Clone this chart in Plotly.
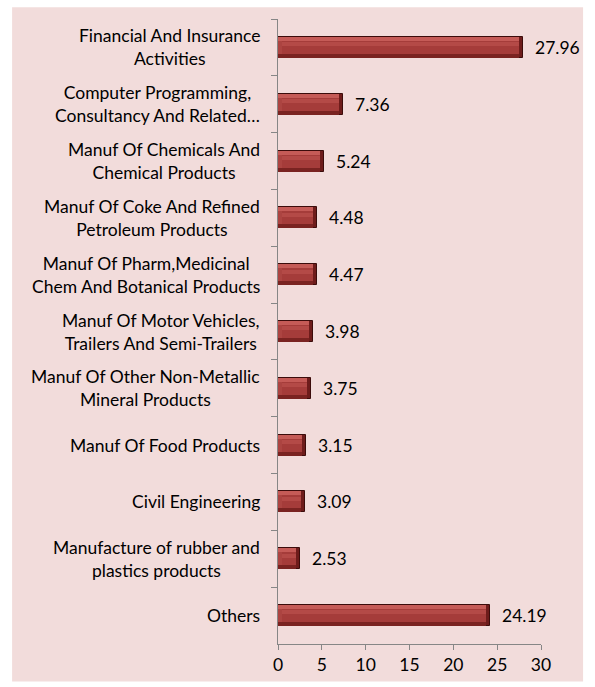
import plotly.graph_objects as go

# sectors, top to bottom
categories = [
    "Financial And Insurance<br>Activities",
    "Computer Programming,<br>Consultancy And Related…",
    "Manuf Of Chemicals And<br>Chemical Products",
    "Manuf Of Coke And Refined<br>Petroleum Products",
    "Manuf Of Pharm,Medicinal<br>Chem And Botanical Products",
    "Manuf Of Motor Vehicles,<br>Trailers And Semi-Trailers",
    "Manuf Of Other Non-Metallic<br>Mineral Products",
    "Manuf Of Food Products",
    "Civil Engineering",
    "Manufacture of rubber and<br>plastics products",
    "Others",
]
values = [27.96, 7.36, 5.24, 4.48, 4.47, 3.98, 3.75, 3.15, 3.09, 2.53, 24.19]
xticks = [0, 5, 10, 15, 20, 25, 30]

FONT = "Lato"
FSIZE = 17.5
inset = 0.45  # bevel depth in axis units

fig = go.Figure()

def bevel_part(x, base, width, offset, color, line=None):
    fig.add_trace(go.Bar(
        x=x, base=base, y=categories, orientation="h", width=width, offset=offset,
        marker=dict(color=color, line=line or dict(width=0)),
        hoverinfo="skip", showlegend=False,
    ))

n = len(values)
# whole bar: dark right end + outline
bevel_part(values, [0] * n, 0.37, -0.185, "#6E1C1B", dict(color="#3C0C0B", width=1))
# left end, a bit lighter
bevel_part([v - inset for v in values], [0] * n, 0.37, -0.185, "#AC4441")
# top bevel
bevel_part([v - inset for v in values], [0] * n, 0.07, -0.185, "#C55B57")
# bottom bevel
bevel_part([v - inset for v in values], [0] * n, 0.07, 0.115, "#7A2321")
# flat face
bevel_part([v - 2 * inset for v in values], [inset] * n, 0.23, -0.115, "#A53C3A")
# soft sheen on the face
bevel_part([v - 2 * inset for v in values], [inset] * n, 0.07, -0.09, "#B44A47")

# category labels, centred lines like the original
for c in categories:
    fig.add_annotation(x=0, y=c, xref="paper", yref="y", text=c, showarrow=False,
                       xanchor="right", align="center", xshift=-16,
                       font=dict(family=FONT, size=FSIZE, color="#000000"))

# value labels
for c, v in zip(categories, values):
    fig.add_annotation(x=v, y=c, text=f"{v:.2f}", showarrow=False,
                       xanchor="left", xshift=10,
                       font=dict(family=FONT, size=FSIZE, color="#000000"))

# pink chart area
fig.add_shape(type="rect", xref="paper", yref="paper",
              x0=-1.011, x1=1.16, y0=-0.06, y1=1.019,
              fillcolor="#F2DCDB", line=dict(width=0), layer="below")

fig.update_layout(
    width=595, height=687,
    margin=dict(l=278, r=54, t=19, b=36),
    paper_bgcolor="#FFFFFF", plot_bgcolor="rgba(0,0,0,0)",
    barmode="overlay", bargap=0,
    font=dict(family=FONT, size=FSIZE, color="#000000"),
)
fig.update_xaxes(range=[0, 30], tickvals=xticks, showgrid=False, zeroline=False,
                 showline=True, linecolor="#868686", linewidth=1,
                 ticks="outside", tickcolor="#868686", ticklen=5,
                 tickfont=dict(family=FONT, size=FSIZE))
fig.update_yaxes(autorange="reversed", showgrid=False, zeroline=False,
                 showline=True, linecolor="#868686", linewidth=1,
                 ticks="outside", tickson="boundaries", tickcolor="#868686",
                 ticklen=6, showticklabels=False)

# drop the default page margin so the chart sits at 0,0
fig.write_html("out.html", config={"displayModeBar": False},
               post_script="document.body.style.margin='0';")
